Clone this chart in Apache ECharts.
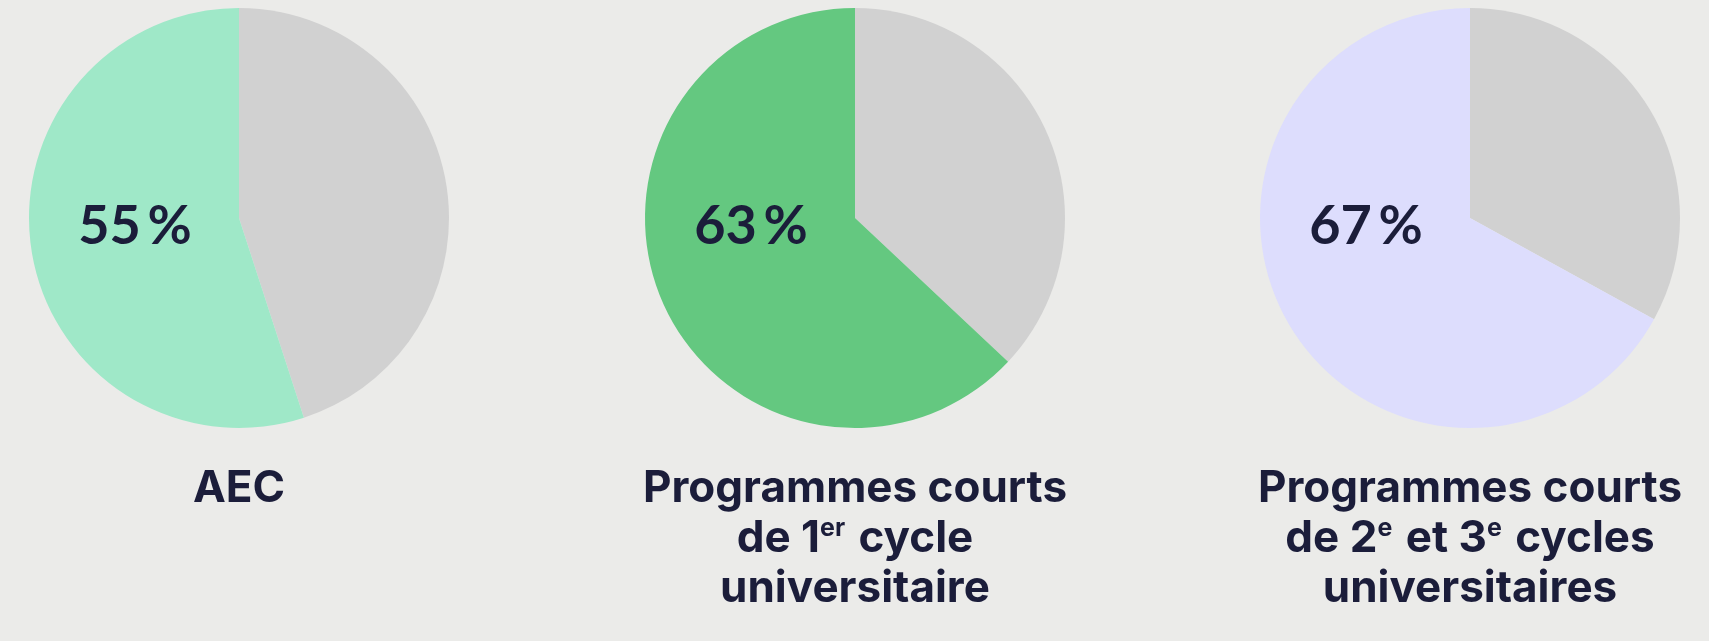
<!DOCTYPE html>
<html>
<head>
<meta charset="utf-8">
<script src="https://cdn.jsdelivr.net/npm/echarts@6/dist/echarts.min.js"></script>
<style>
  html, body { margin: 0; padding: 0; background: #ebebe9; }
  #container { width: 1709px; height: 641px; }
</style>
</head>
<body>
<div id="container"></div>
<script>
// data
var categories = ['AEC', 'Programmes courts de 1er cycle universitaire', 'Programmes courts de 2e et 3e cycles universitaires'];
var shareValues = [55, 63, 67];
var restValues = [45, 37, 33];
var sliceColors = ['#9fe8c8', '#64c880', '#ddddfd'];
var restColor = '#d1d1d1';
// category labels, with markup for the superscripts
var labelTexts = [
	'{b|AEC}',
	'{b|Programmes courts}\n{b|de 1}{s|er}{b| cycle}\n{b|universitaire}',
	'{b|Programmes courts}\n{b|de 2}{s|e}{b| et 3}{s|e}{b| cycles}\n{b|universitaires}'
];

var centersX = [239, 855, 1470];
var centerY = 218;
var radius = 210;
var ink = '#1b1d3a';

var myChart = echarts.init(document.getElementById('container'));

var series = [];
var graphic = [];
for (var i = 0; i < categories.length; ++i) {
	series.push({
		name: categories[i],
		type: 'pie',
		center: [centersX[i], centerY],
		radius: radius,
		startAngle: 90,
		clockwise: true,
		silent: true,
		label: { show: false },
		labelLine: { show: false },
		itemStyle: { borderWidth: 0 },
		data: [
			{ name: 'autre', value: restValues[i], itemStyle: { color: restColor } },
			{ name: categories[i], value: shareValues[i], itemStyle: { color: sliceColors[i] } }
		]
	});
	// percentage
	graphic.push({
		type: 'text',
		z: 100,
		x: centersX[i] - 104,
		y: 227,
		style: {
			text: shareValues[i] + '\u2009%',
			font: 'bold 54px Lato',
			fill: ink,
			align: 'center',
			verticalAlign: 'middle'
		}
	});
	// category label under the pie
	graphic.push({
		type: 'text',
		z: 100,
		x: centersX[i],
		y: 464,
		style: {
			text: labelTexts[i],
			align: 'center',
			verticalAlign: 'top',
			rich: {
				b: { fontFamily: 'Inter', fontWeight: 700, fontSize: 44, lineHeight: 50, fill: ink },
				s: { fontFamily: 'Inter', fontWeight: 700, fontSize: 25, lineHeight: 50, fill: ink, verticalAlign: 'top', padding: [2, 3, 0, 0] }
			}
		}
	});
}

var option = {
	backgroundColor: '#ebebe9',
	animation: false,
	series: series,
	graphic: graphic
};
myChart.setOption(option);
</script>
</body>
</html>
